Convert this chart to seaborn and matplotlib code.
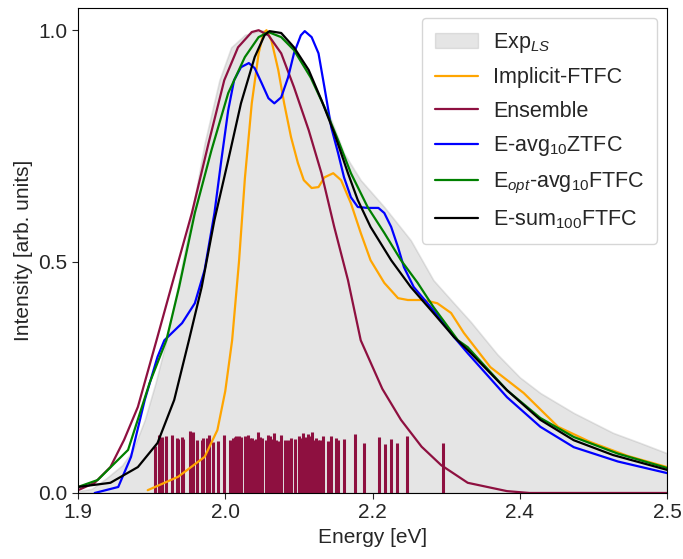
import numpy as np
import pandas as pd
import matplotlib
matplotlib.use("Agg")
import matplotlib.pyplot as plt
import seaborn as sns
from matplotlib.ticker import FormatStrFormatter
from matplotlib.patches import Patch

# ---------------- data ----------------
exp_x = [1.900, 1.914, 1.929, 1.945, 1.956, 1.968, 1.979, 1.990, 2.000, 2.013, 2.029, 2.044,
         2.056, 2.070, 2.087, 2.104, 2.117, 2.138, 2.158, 2.171, 2.188, 2.212, 2.239, 2.262,
         2.283, 2.300, 2.327, 2.350, 2.371, 2.405, 2.445, 2.473, 2.500]
exp_y = [0.004, 0.009, 0.032, 0.060, 0.093, 0.158, 0.238, 0.330, 0.430, 0.570, 0.756, 0.892,
         0.963, 0.990, 1.000, 0.996, 0.972, 0.892, 0.806, 0.734, 0.676, 0.618, 0.546, 0.460,
         0.410, 0.370, 0.300, 0.250, 0.216, 0.173, 0.130, 0.108, 0.086]

implicit_x = [1.971, 2.002, 2.029, 2.042, 2.050, 2.057, 2.064, 2.070, 2.077, 2.084, 2.089, 2.092,
              2.097, 2.104, 2.110, 2.117, 2.124, 2.130, 2.138, 2.145, 2.151, 2.160, 2.168, 2.178,
              2.188, 2.198, 2.212, 2.226, 2.236, 2.252, 2.266, 2.280, 2.293, 2.320, 2.354, 2.389,
              2.422, 2.460, 2.500]
implicit_y = [0.006, 0.035, 0.078, 0.136, 0.220, 0.330, 0.500, 0.680, 0.842, 0.950, 0.994, 1.000,
              0.978, 0.914, 0.842, 0.769, 0.713, 0.676, 0.659, 0.661, 0.682, 0.691, 0.676, 0.626,
              0.562, 0.503, 0.454, 0.421, 0.417, 0.417, 0.410, 0.389, 0.346, 0.272, 0.216, 0.143,
              0.110, 0.080, 0.056]

ensemble_x = [1.900, 1.917, 1.933, 1.947, 1.961, 1.980, 1.995, 2.016, 2.033, 2.049, 2.063, 2.077,
              2.084, 2.094, 2.107, 2.120, 2.135, 2.148, 2.161, 2.175, 2.188, 2.210, 2.229, 2.250,
              2.270, 2.297, 2.337, 2.360, 2.500]
ensemble_y = [0.006, 0.022, 0.056, 0.115, 0.186, 0.330, 0.445, 0.605, 0.756, 0.892, 0.963, 0.996,
              1.000, 0.989, 0.950, 0.877, 0.784, 0.691, 0.575, 0.460, 0.330, 0.225, 0.158, 0.100,
              0.060, 0.022, 0.004, 0.000, 0.000]

zt_x = [1.917, 1.941, 1.954, 1.968, 1.981, 1.988, 2.006, 2.019, 2.029, 2.039, 2.046, 2.053,
        2.059, 2.066, 2.074, 2.080, 2.087, 2.094, 2.100, 2.107, 2.114, 2.120, 2.127, 2.131,
        2.138, 2.145, 2.151, 2.158, 2.165, 2.171, 2.178, 2.185, 2.195, 2.206, 2.212, 2.219,
        2.226, 2.232, 2.242, 2.256, 2.270, 2.283, 2.297, 2.337, 2.371, 2.405, 2.450, 2.500]
zt_y = [0.000, 0.013, 0.078, 0.201, 0.294, 0.330, 0.367, 0.410, 0.482, 0.605, 0.719, 0.827,
        0.892, 0.920, 0.929, 0.918, 0.886, 0.853, 0.842, 0.855, 0.898, 0.950, 0.989, 0.998,
        0.985, 0.950, 0.877, 0.790, 0.734, 0.682, 0.639, 0.618, 0.616, 0.616, 0.605, 0.575,
        0.531, 0.488, 0.445, 0.410, 0.374, 0.337, 0.302, 0.207, 0.143, 0.099, 0.068, 0.043]

opt_x = [1.900, 1.920, 1.951, 1.973, 1.990, 2.003, 2.019, 2.036, 2.053, 2.070, 2.084, 2.094,
         2.107, 2.120, 2.137, 2.151, 2.165, 2.178, 2.195, 2.212, 2.229, 2.246, 2.262, 2.287,
         2.297, 2.337, 2.371, 2.405, 2.450, 2.500]
opt_y = [0.013, 0.028, 0.093, 0.238, 0.330, 0.445, 0.605, 0.741, 0.864, 0.942, 0.985, 0.996,
         0.985, 0.957, 0.898, 0.834, 0.762, 0.691, 0.618, 0.562, 0.503, 0.454, 0.402, 0.330,
         0.315, 0.222, 0.162, 0.121, 0.085, 0.054]

sum_x = [1.900, 1.933, 1.961, 1.981, 1.998, 2.013, 2.026, 2.039, 2.053, 2.066, 2.080, 2.090,
         2.095, 2.107, 2.120, 2.135, 2.148, 2.161, 2.175, 2.185, 2.198, 2.219, 2.239, 2.262,
         2.283, 2.297, 2.337, 2.371, 2.405, 2.445, 2.500]
sum_y = [0.013, 0.022, 0.056, 0.108, 0.201, 0.330, 0.445, 0.590, 0.719, 0.842, 0.942, 0.989,
         0.998, 0.994, 0.963, 0.914, 0.849, 0.778, 0.691, 0.633, 0.575, 0.503, 0.445, 0.389,
         0.337, 0.309, 0.222, 0.158, 0.114, 0.082, 0.050]

stick_x = [1.9785, 1.9829, 1.9853, 1.9896, 1.9954, 2.0005, 2.0022, 2.0056, 2.0073, 2.0140,
           2.0167, 2.0215, 2.0259, 2.0276, 2.0310, 2.0337, 2.0378, 2.0428, 2.0489, 2.0553,
           2.0574, 2.0597, 2.0614, 2.0642, 2.0665, 2.0698, 2.0716, 2.0733, 2.0756, 2.0777,
           2.0800, 2.0817, 2.0834, 2.0851, 2.0875, 2.0919, 2.0936, 2.0952, 2.0970, 2.0997,
           2.1020, 2.1038, 2.1071, 2.1105, 2.1139, 2.1173, 2.1206, 2.1247, 2.1267, 2.1291,
           2.1315, 2.1342, 2.1365, 2.1386, 2.1403, 2.1426, 2.1444, 2.1467, 2.1494, 2.1545,
           2.1579, 2.1629, 2.1647, 2.1708, 2.1825, 2.1911, 2.2063, 2.2124, 2.2188, 2.2246,
           2.2347, 2.2719]
stick_h = [0.102, 0.125, 0.122, 0.123, 0.125, 0.118, 0.117, 0.122, 0.117, 0.134,
           0.131, 0.114, 0.114, 0.118, 0.118, 0.125, 0.111, 0.112, 0.125, 0.114,
           0.119, 0.122, 0.124, 0.124, 0.122, 0.124, 0.122, 0.125, 0.119, 0.118,
           0.114, 0.117, 0.132, 0.122, 0.119, 0.114, 0.125, 0.124, 0.117, 0.129,
           0.114, 0.112, 0.125, 0.114, 0.114, 0.118, 0.117, 0.124, 0.119, 0.129,
           0.122, 0.127, 0.123, 0.131, 0.114, 0.118, 0.114, 0.114, 0.123, 0.112,
           0.124, 0.119, 0.114, 0.116, 0.127, 0.109, 0.122, 0.105, 0.117, 0.107,
           0.124, 0.109]

x_ticks = [1.9, 2.05, 2.2, 2.35, 2.5]
y_ticks = [0.0, 0.5, 1.0]

# ---------------- style ----------------
sns.set_style("ticks")
plt.rcParams['font.family'] = ['Liberation Sans', 'DejaVu Sans']
plt.rcParams['mathtext.fontset'] = 'custom'
plt.rcParams['mathtext.rm'] = 'Liberation Sans'
plt.rcParams['mathtext.it'] = 'Liberation Sans:italic'
plt.rcParams['mathtext.bf'] = 'Liberation Sans:bold'

MAROON = '#8E1040'
FS = 15

fig = plt.figure(figsize=(6.83, 5.59), dpi=100)
ax = fig.add_axes([0.1142, 0.1181, 0.8624, 0.8676])

ax.fill_between(exp_x, exp_y, 0, color='gray', alpha=0.2, lw=1.2)

ax.vlines(stick_x, 0, stick_h, color=MAROON, lw=2.2)

lw = 1.6
sns.lineplot(x=implicit_x, y=implicit_y, ax=ax, color='orange', lw=lw, sort=False)
sns.lineplot(x=ensemble_x, y=ensemble_y, ax=ax, color=MAROON, lw=lw, sort=False)
sns.lineplot(x=zt_x, y=zt_y, ax=ax, color='blue', lw=lw, sort=False)
sns.lineplot(x=opt_x, y=opt_y, ax=ax, color='green', lw=lw, sort=False)
sns.lineplot(x=sum_x, y=sum_y, ax=ax, color='black', lw=lw, sort=False)

ax.set_xlim(1.9, 2.5)
ax.set_ylim(0.0, 1.048)
ax.set_xticks(x_ticks)
ax.set_yticks(y_ticks)
ax.xaxis.set_major_formatter(FormatStrFormatter('%.1f'))
ax.yaxis.set_major_formatter(FormatStrFormatter('%.1f'))
ax.tick_params(labelsize=FS, direction='out', length=4, width=0.8)
ax.set_xlabel('Energy [eV]', fontsize=FS)
ax.set_ylabel('Intensity [arb. units]', fontsize=FS)
for s in ax.spines.values():
    s.set_linewidth(0.8)
    s.set_color('black')

handles = [
    Patch(facecolor='gray', alpha=0.2, edgecolor='gray', label=r'Exp$_{LS}$'),
    plt.Line2D([], [], color='orange', lw=lw, label='Implicit-FTFC'),
    plt.Line2D([], [], color=MAROON, lw=lw, label='Ensemble'),
    plt.Line2D([], [], color='blue', lw=lw, label=r'E-avg$_{10}$ZTFC'),
    plt.Line2D([], [], color='green', lw=lw, label=r'E$_{opt}$-avg$_{10}$FTFC'),
    plt.Line2D([], [], color='black', lw=lw, label=r'E-sum$_{100}$FTFC'),
]
ax.legend(handles=handles, loc='upper right', fontsize=15.5, frameon=True,
          fancybox=True, edgecolor='0.8', framealpha=0.8, labelspacing=0.58,
          handletextpad=0.7, borderaxespad=0.45, borderpad=0.6)

fig.savefig('out.png', dpi=100)
